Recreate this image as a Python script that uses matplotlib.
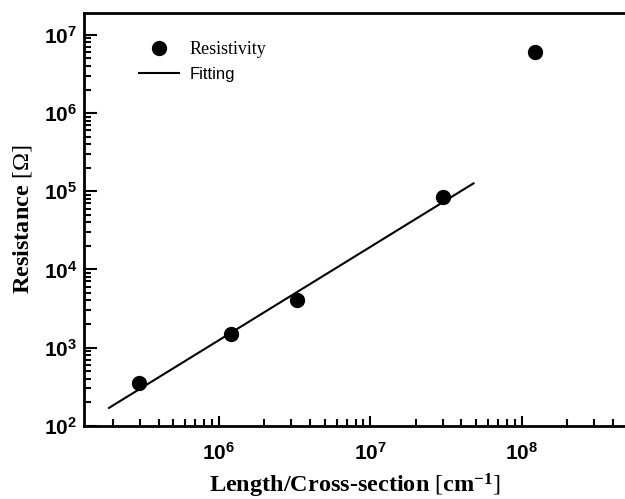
import numpy as np
import matplotlib
matplotlib.use("Agg")
import matplotlib.pyplot as plt
from matplotlib.ticker import LogLocator, NullFormatter

plt.rcParams["mathtext.fontset"] = "custom"
plt.rcParams["mathtext.rm"] = "Liberation Serif"
plt.rcParams["mathtext.bf"] = "Liberation Serif:bold"
plt.rcParams["mathtext.it"] = "Liberation Serif:italic"

# measured resistance vs. geometry factor
length_per_area = [2.95e5, 1.2e6, 3.3e6, 3.0e7, 1.22e8]
resistance = [350, 1500, 4000, 8.5e4, 6.0e6]

# power-law fit (end points of the drawn line)
fit_x = [1.88e5, 4.8e7]
fit_y = [169, 1.26e5]

fig = plt.figure(figsize=(6.25, 4.99), dpi=100)
ax = fig.add_axes([84 / 625, 1 - 425.7 / 499, 1 - 84 / 625, (425.7 - 13) / 499])

ax.plot(length_per_area, resistance, "o", color="black", markersize=10,
        linestyle="none", label="Resistivity")
ax.plot(fit_x, fit_y, "-", color="black", linewidth=1.5, label="Fitting")

ax.set_xscale("log")
ax.set_yscale("log")
ax.set_xlim(10 ** 5.109, 10 ** 8.682)
ax.set_ylim(1e2, 10 ** 7.28)

ax.xaxis.set_major_locator(LogLocator(base=10, numticks=10))
ax.xaxis.set_minor_locator(LogLocator(base=10, subs=np.arange(2, 10), numticks=10))
ax.yaxis.set_major_locator(LogLocator(base=10, numticks=10))
ax.yaxis.set_minor_locator(LogLocator(base=10, subs=np.arange(2, 10), numticks=10))
ax.xaxis.set_minor_formatter(NullFormatter())
ax.yaxis.set_minor_formatter(NullFormatter())

for s in ["left", "bottom", "top"]:
    ax.spines[s].set_linewidth(2)
ax.spines["right"].set_visible(False)

ax.tick_params(which="both", direction="in", top=False, right=False, width=1.5)
ax.tick_params(axis="x", which="major", length=7, pad=12)
ax.tick_params(axis="y", which="major", length=9, pad=5)
ax.tick_params(which="minor", length=5)

for lab in ax.get_xticklabels() + ax.get_yticklabels():
    lab.set_fontfamily("Liberation Sans")
    lab.set_fontweight("bold")
    lab.set_fontsize(15)

ax.set_xlabel(r"Length/Cross-section $\mathrm{[}\mathbf{cm^{-1}}\mathrm{]}$",
              fontfamily="Liberation Serif", fontweight="bold", fontsize=17.5,
              labelpad=5.5)
ax.set_ylabel(r"Resistance $\mathrm{[\Omega]}$",
              fontfamily="Liberation Serif", fontweight="bold", fontsize=17.5,
              labelpad=7)

leg = ax.legend(loc="upper left", bbox_to_anchor=(0.072, 0.971), frameon=False,
                handlelength=2.2, handletextpad=0.6, labelspacing=0.47,
                fontsize=13)
leg.get_texts()[0].set_fontfamily("Liberation Serif")
leg.get_texts()[1].set_fontfamily("Liberation Sans")
leg.get_texts()[1].set_fontsize(12)

fig.savefig("out.png", dpi=100)
